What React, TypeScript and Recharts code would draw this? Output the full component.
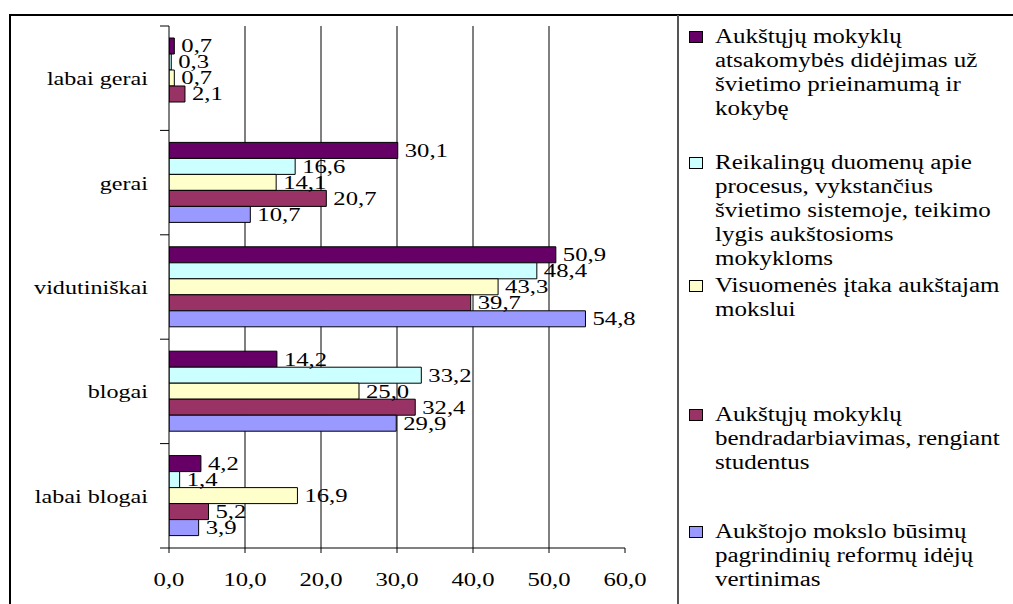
import React from 'react';
import { BarChart, Bar, XAxis, YAxis, CartesianGrid, LabelList } from 'recharts';

const categories = ['labai gerai', 'gerai', 'vidutiniškai', 'blogai', 'labai blogai'];
const seriesNames = [
  'Aukštųjų mokyklų\natsakomybės didėjimas už\nšvietimo prieinamumą ir\nkokybę',
  'Reikalingų duomenų apie\nprocesus, vykstančius\nšvietimo sistemoje, teikimo\nlygis aukštosioms\nmokykloms',
  'Visuomenės įtaka aukštajam\nmokslui',
  'Aukštųjų mokyklų\nbendradarbiavimas, rengiant\nstudentus',
  'Aukštojo mokslo būsimų\npagrindinių reformų idėjų\nvertinimas',
];
const seriesColors = ['#660066', '#CCFFFF', '#FFFFCC', '#993366', '#9999FF'];
const series1 = [0.7, 30.1, 50.9, 14.2, 4.2];
const series2 = [0.3, 16.6, 48.4, 33.2, 1.4];
const series3 = [0.7, 14.1, 43.3, 25.0, 16.9];
const series4 = [2.1, 20.7, 39.7, 32.4, 5.2];
const series5: (number | null)[] = [null, 10.7, 54.8, 29.9, 3.9];
const xTicks = [0, 10, 20, 30, 40, 50, 60];
const gridValues = [10, 20, 30, 40, 50];

const allSeries = [series1, series2, series3, series4, series5];
const keys = ['s1', 's2', 's3', 's4', 's5'];
const rows = categories.map((c, i) => {
  const r: any = { category: c };
  keys.forEach((k, j) => (r[k] = allSeries[j][i]));
  return r;
});

// layout constants
const FONT = '"Liberation Serif", "Times New Roman", serif';
const CHART_W = 690;
const CHART_H = 604;
const PLOT_LEFT = 169;
const PLOT_TOP = 26;
const PLOT_BOTTOM = 548;
const PLOT_RIGHT = 625;
const X_AXIS_H = 40;
const TEXT_SIZE = 19;
const TEXT_SCALE = 1.3;
const legendFirstLineCenters = [36, 162, 285, 414.5, 531];

const fmt = (v: number) => v.toFixed(1).replace('.', ',');

const YTick = (props: any) => {
  const { y, payload, index } = props;
  const band = (PLOT_BOTTOM - PLOT_TOP) / categories.length;
  return (
    <g>
      <line x1={PLOT_LEFT - 9} x2={PLOT_LEFT} y1={y - band / 2} y2={y - band / 2} stroke="#000" strokeWidth={1} />
      {index === categories.length - 1 && (
        <line x1={PLOT_LEFT - 9} x2={PLOT_LEFT} y1={y + band / 2} y2={y + band / 2} stroke="#000" strokeWidth={1} />
      )}
      <text
        x={0}
        y={0}
        transform={`translate(${PLOT_LEFT - 21} ${y + 7}) scale(1.27 1)`}
        textAnchor="end"
        fontFamily={FONT}
        fontSize={TEXT_SIZE}
        fill="#000"
      >
        {payload.value}
      </text>
    </g>
  );
};

const XTick = (props: any) => {
  const { x, payload } = props;
  return (
    <text
      x={0}
      y={0}
      transform={`translate(${x} ${PLOT_BOTTOM + 38}) scale(${TEXT_SCALE} 1)`}
      textAnchor="middle"
      fontFamily={FONT}
      fontSize={TEXT_SIZE}
      fill="#000"
    >
      {fmt(Number(payload.value))}
    </text>
  );
};

const renderLabel = (props: any) => {
  const { x, y, width, height, value } = props;
  if (value === null || value === undefined) return null;
  const tx = Number(x) + Number(width) + 7;
  const ty = Number(y) + Number(height) / 2 + 6.4;
  return (
    <text
      x={0}
      y={0}
      transform={`translate(${tx} ${ty}) scale(${TEXT_SCALE} 1)`}
      textAnchor="start"
      fontFamily={FONT}
      fontSize={TEXT_SIZE}
      fill="#000"
    >
      {fmt(Number(value))}
    </text>
  );
};

const LegendBlock = () => (
  <>
    {seriesNames.map((name, i) => {
      const c = legendFirstLineCenters[i];
      return (
        <React.Fragment key={name}>
          <div
            style={{
              position: 'absolute',
              left: 689,
              top: c - 5.5,
              width: 12,
              height: 10,
              background: seriesColors[i],
              border: '1px solid #000',
            }}
          />
          <div
            style={{
              position: 'absolute',
              left: 715,
              top: c - 12.2,
              fontFamily: FONT,
              fontSize: 20,
              lineHeight: '24px',
              color: '#000',
              whiteSpace: 'pre',
              transform: 'scaleX(1.25)',
              transformOrigin: 'left top',
            }}
          >
            {name}
          </div>
        </React.Fragment>
      );
    })}
  </>
);

export default function App() {
  return (
    <div style={{ position: 'fixed', left: 0, top: 0, width: 1013, height: 604, background: '#fff', overflow: 'hidden' }}>
      <div style={{ position: 'absolute', left: 0, top: 0 }}>
        <BarChart
          width={CHART_W}
          height={CHART_H}
          data={rows}
          layout="vertical"
          barCategoryGap={12}
          barGap={0}
          margin={{ top: PLOT_TOP, left: 0, right: CHART_W - PLOT_RIGHT, bottom: CHART_H - PLOT_BOTTOM - X_AXIS_H }}
        >
          <CartesianGrid horizontal={false} vertical={true} verticalValues={gridValues} stroke="#000" strokeWidth={1} />
          <XAxis
            type="number"
            domain={[0, 60]}
            ticks={xTicks}
            allowDataOverflow
            height={X_AXIS_H}
            tickSize={5}
            axisLine={{ stroke: '#000' }}
            tickLine={{ stroke: '#000' }}
            tick={XTick}
            interval={0}
          />
          <YAxis
            type="category"
            dataKey="category"
            width={PLOT_LEFT}
            interval={0}
            tickLine={false}
            tickSize={0}
            axisLine={{ stroke: '#000' }}
            tick={YTick}
          />
          {keys.map((k, i) => (
            <Bar key={k} dataKey={k} fill={seriesColors[i]} stroke="#000" strokeWidth={1} isAnimationActive={false}>
              <LabelList dataKey={k} content={renderLabel} />
            </Bar>
          ))}
        </BarChart>
      </div>
      <div style={{ position: 'absolute', left: 9, top: 14, width: 2, height: 590, background: '#000' }} />
      <div style={{ position: 'absolute', left: 9, top: 14, width: 1004, height: 2, background: '#000' }} />
      <div style={{ position: 'absolute', left: 677, top: 15, width: 1.5, height: 589, background: '#555' }} />
      <LegendBlock />
    </div>
  );
}
